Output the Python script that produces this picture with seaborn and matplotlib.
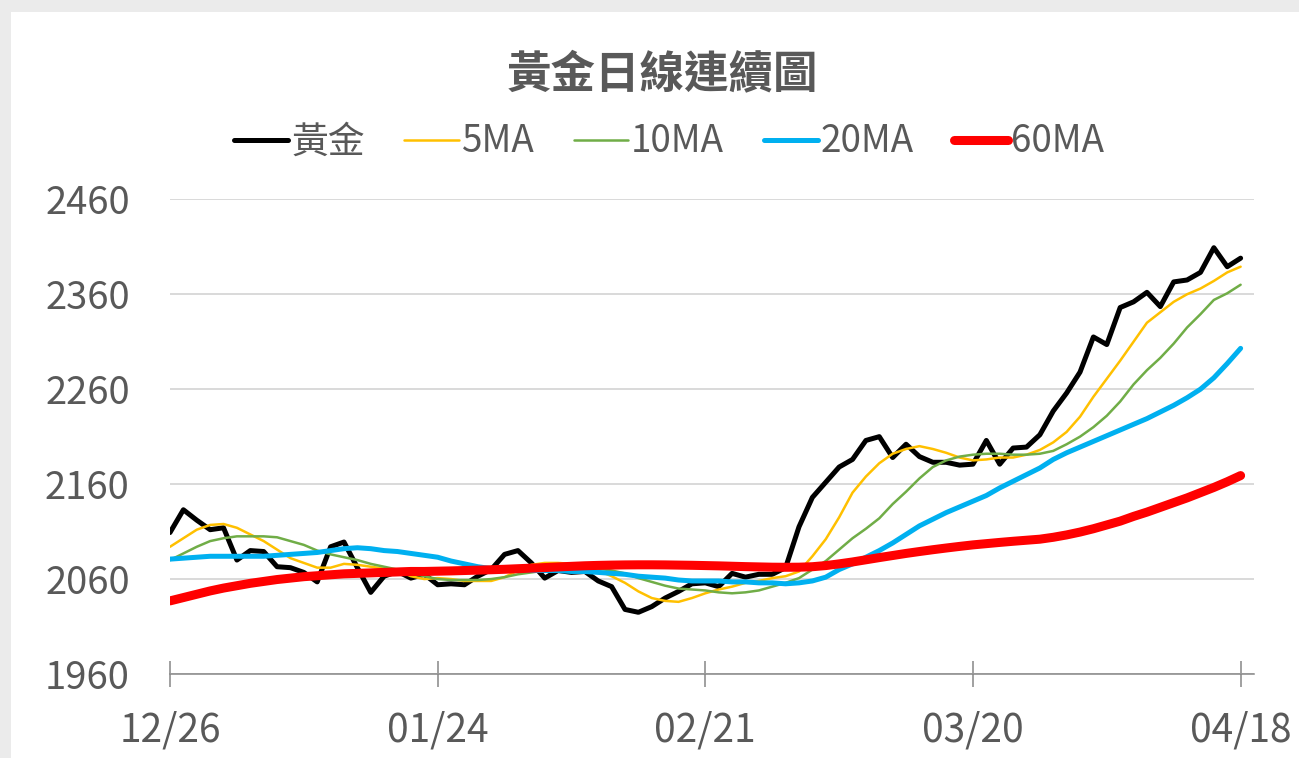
import numpy as np
import pandas as pd
import matplotlib
matplotlib.use("Agg")
import matplotlib.pyplot as plt
import seaborn as sns
from matplotlib.patches import Rectangle

# ---------------- data ----------------
series_names = ["黃金", "5MA", "10MA", "20MA", "60MA"]
tick_labels = ["12/26", "01/24", "02/21", "03/20", "04/18"]

gold = [2109, 2133, 2122, 2112, 2114, 2080, 2090, 2089, 2073, 2072,
        2067, 2057, 2094, 2099, 2072, 2046, 2063, 2068, 2061, 2065,
        2054, 2055, 2054, 2063, 2070, 2086, 2090, 2077, 2061, 2069,
        2067, 2068, 2058, 2052, 2028, 2025, 2031, 2040, 2047, 2055,
        2056, 2052, 2066, 2062, 2065, 2065, 2072, 2115, 2146, 2162,
        2178, 2186, 2206, 2210, 2188, 2202, 2189, 2183, 2183, 2180,
        2181, 2206, 2181, 2198, 2199, 2212, 2237, 2256, 2278, 2315,
        2307, 2346, 2352, 2362, 2347, 2373, 2375, 2383, 2409, 2389,
        2398]

ma5 = [2094, 2103, 2112, 2117, 2118, 2114, 2107, 2100, 2091, 2082,
       2077, 2072, 2072, 2076, 2075, 2073, 2071, 2069, 2063, 2060,
       2061, 2060, 2058, 2058, 2058, 2062, 2069, 2075, 2077, 2077,
       2076, 2073, 2069, 2063, 2056, 2047, 2040, 2037, 2036, 2040,
       2045, 2049, 2052, 2056, 2058, 2061, 2063, 2068, 2084, 2102,
       2125, 2151, 2168, 2182, 2192, 2197, 2200, 2197, 2193, 2188,
       2185, 2186, 2188, 2188, 2191, 2196, 2204, 2215, 2231, 2252,
       2271, 2290, 2310, 2330, 2341, 2352, 2360, 2366, 2374, 2383,
       2389]

ma10 = [2080, 2087, 2094, 2100, 2103, 2105, 2105, 2105, 2104, 2100,
        2096, 2090, 2086, 2083, 2080, 2076, 2073, 2070, 2066, 2063,
        2060, 2059, 2059, 2059, 2060, 2062, 2065, 2067, 2069, 2070,
        2072, 2072, 2071, 2069, 2066, 2061, 2057, 2053, 2050, 2049,
        2048, 2046, 2045, 2046, 2048, 2052, 2056, 2061, 2070, 2079,
        2091, 2103, 2113, 2124, 2139, 2152, 2166, 2178, 2185, 2189,
        2191, 2192, 2192, 2191, 2191, 2192, 2195, 2202, 2210, 2220,
        2232, 2247, 2265, 2280, 2293, 2308, 2325, 2339, 2354, 2361,
        2370]

ma20 = [2081, 2082, 2083, 2084, 2084, 2084, 2084, 2084, 2085, 2086,
        2087, 2088, 2090, 2092, 2093, 2092, 2090, 2089, 2087, 2085,
        2083, 2079, 2076, 2073, 2071, 2070, 2070, 2069, 2069, 2069,
        2068, 2068, 2067, 2066, 2065, 2063, 2062, 2061, 2059, 2058,
        2058, 2058, 2057, 2057, 2056, 2056, 2055, 2056, 2058, 2062,
        2070, 2076, 2083, 2090, 2098, 2107, 2116, 2123, 2130, 2136,
        2142, 2148, 2156, 2163, 2170, 2177, 2186, 2193, 2199, 2205,
        2211, 2217, 2223, 2229, 2236, 2243, 2251, 2260, 2272, 2287,
        2303]

ma60 = [2037, 2040.5, 2044, 2047.5, 2050.5, 2053, 2055.5, 2057.5, 2059.5, 2061,
        2062.5, 2063.5, 2064.5, 2065.5, 2066, 2066.5, 2067, 2067.5, 2068, 2068,
        2068.3, 2068.6, 2069, 2069.4, 2069.8, 2070.3, 2070.9, 2071.5, 2072.1, 2072.8,
        2073.4, 2074, 2074.4, 2074.7, 2074.9, 2075, 2075, 2074.9, 2074.7, 2074.5,
        2074.2, 2073.9, 2073.5, 2073.1, 2072.8, 2072.5, 2072.4, 2072.5, 2073, 2074.2,
        2076, 2078, 2080.3, 2082.6, 2084.8, 2087, 2089, 2090.9, 2092.7, 2094.4,
        2096, 2097.3, 2098.6, 2099.8, 2100.9, 2102, 2104, 2106.5, 2109.5, 2113,
        2117, 2121, 2126, 2130.5, 2135.5, 2140.5, 2145.5, 2151, 2156.5, 2162.5,
        2169]

# ---------------- styling ----------------
colors = {"黃金": "#000000", "5MA": "#FFC000", "10MA": "#70AD47",
          "20MA": "#00B0F0", "60MA": "#FF0000"}
widths = {"黃金": 3.6, "5MA": 1.8, "10MA": 1.8, "20MA": 3.6, "60MA": 6.5}
text_color = "#595959"
axis_color = "#868686"

sns.set_theme(style="white")
plt.rcParams['font.family'] = ['Noto Sans CJK TC', 'DejaVu Sans']

W, H = 1299, 758
fig = plt.figure(figsize=(W / 100, H / 100), dpi=100, facecolor="#ebebeb")
bg = Rectangle((11 / W, 0), 1, 1 - 12 / H, transform=fig.transFigure,
               facecolor="white", edgecolor="none", zorder=-10)
fig.patches.append(bg)

ax = fig.add_axes([170 / W, 1 - 674 / H, (1254 - 170) / W, (674 - 199.3) / H])
ax.set_facecolor("white")
ax.set_zorder(1)

n = len(gold)
df = pd.DataFrame({"idx": np.arange(n), "黃金": gold, "5MA": ma5, "10MA": ma10,
                   "20MA": ma20, "60MA": ma60})
long = df.melt(id_vars="idx", var_name="series", value_name="price")

for name in series_names:
    sub = long[long["series"] == name]
    sns.lineplot(data=sub, x="idx", y="price", ax=ax, color=colors[name],
                 linewidth=widths[name], label=name, estimator=None,
                 solid_capstyle="round", solid_joinstyle="round")

ax.set_xlim(0, 81)
ax.set_ylim(1960, 2460)
ax.set_yticks(np.arange(1960, 2461, 100))
ax.set_xticks(np.arange(0, n, 20))
ax.set_xticklabels(tick_labels)
ax.set_xlabel("")
ax.set_ylabel("")

ax.set_axisbelow(True)
ax.yaxis.grid(True, color="#d9d9d9", linewidth=1.4)
ax.xaxis.grid(False)
for s in ["left", "right", "top"]:
    ax.spines[s].set_visible(False)
ax.spines["bottom"].set_color(axis_color)
ax.spines["bottom"].set_linewidth(1.1)

ax.tick_params(axis="x", bottom=True, direction="inout", length=19, width=1.1,
               color=axis_color, labelsize=28, labelcolor=text_color, pad=16.5)
ax.tick_params(axis="y", left=False, length=0, labelsize=27.5,
               labelcolor=text_color, pad=29)

handles, labels = ax.get_legend_handles_labels()
if ax.get_legend() is not None:
    ax.get_legend().remove()
fig.legend(handles, labels, loc="center", bbox_to_anchor=(669 / W, 1 - 142 / H),
           ncol=5, frameon=False, fontsize=26.5, handlelength=1.47,
           handletextpad=0.08, columnspacing=1.08, labelcolor=text_color)

fig.text(662 / W, 1 - 75 / H, "黃金日線連續圖", ha="center", va="center",
         fontsize=32, fontweight="bold", color=text_color)

fig.savefig("out.png", dpi=100, facecolor=fig.get_facecolor())
